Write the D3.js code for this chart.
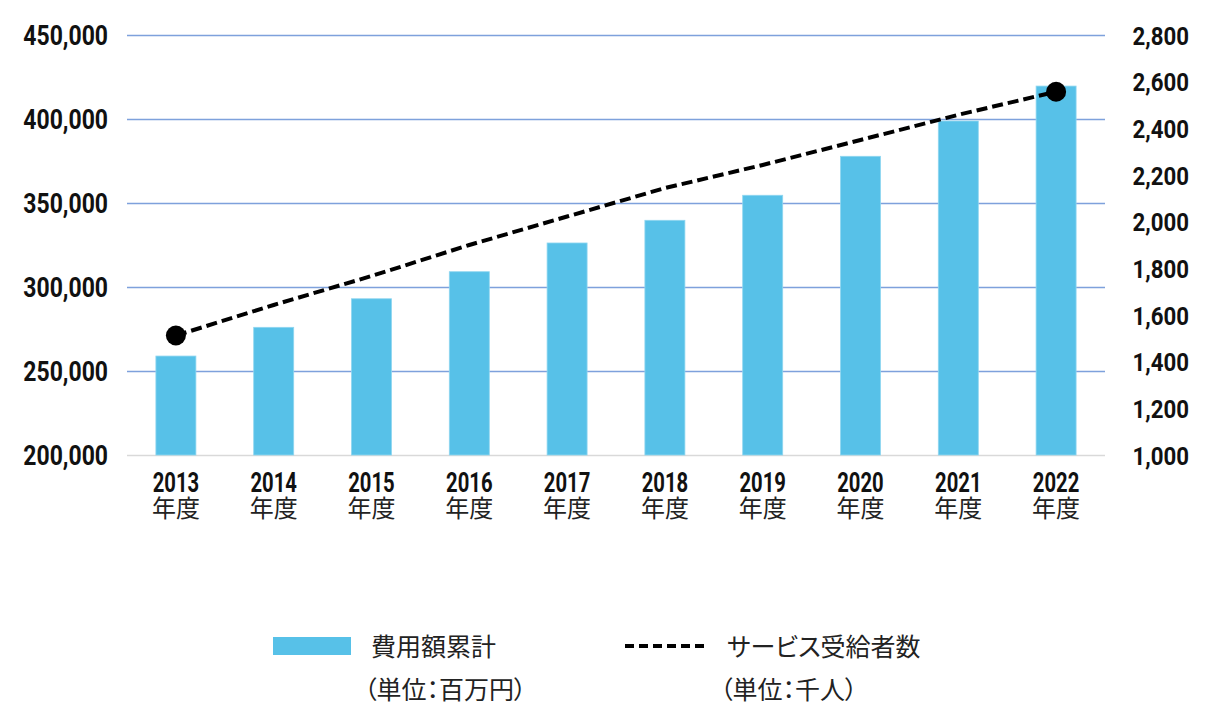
<!DOCTYPE html>
<html><head><meta charset="utf-8">
<script src="https://cdn.jsdelivr.net/npm/d3@7"></script>
<style>
body{margin:0;background:#fff;}
svg{display:block;}
.num{font-family:Roboto,"Liberation Sans",sans-serif;font-weight:700;fill:#111;}
.jp{font-family:"Noto Sans CJK JP","Noto Sans",sans-serif;font-weight:400;fill:#222;font-feature-settings:"palt";}
</style></head>
<body>
<svg id="c" width="1212" height="726"></svg>
<script>
const years = ["2013","2014","2015","2016","2017","2018","2019","2020","2021","2022"];
const costTotal = [258900, 276000, 293000, 309100, 326200, 339700, 354600, 377800, 398800, 419600];
const recipients = [1512, 1643, 1767, 1900, 2022, 2144, 2243, 2350, 2458, 2557];
const leftTicks = [200000, 250000, 300000, 350000, 400000, 450000];
const rightTicks = [1000, 1200, 1400, 1600, 1800, 2000, 2200, 2400, 2600, 2800];
const yearSuffix = "年度";
const legendBar = ["費用額累計", "（単位：百万円）"];
const legendLine = ["サービス受給者数", "（単位：千人）"];

const svg = d3.select("#c");
const x = d3.scaleBand().domain(years).range([127, 1105]).paddingInner(0.591).paddingOuter(0.2955);
const yL = d3.scaleLinear().domain([200000, 450000]).range([455, 35]);
const yR = d3.scaleLinear().domain([1000, 2800]).range([455, 35]);
const fmt = d3.format(",");
const numLen = s => { let w = 0; for (const ch of s) w += (ch === ",") ? 5.5 : 13.2; return w; };

// gridlines
svg.append("g").selectAll("line").data(leftTicks).join("line")
  .attr("x1", 127).attr("x2", 1105)
  .attr("y1", d => Math.round(yL(d)) + 0.5).attr("y2", d => Math.round(yL(d)) + 0.5)
  .attr("stroke", d => d === 200000 ? "#d9d9d9" : "#7ea1dc").attr("stroke-width", 1.5);

// bars
svg.append("g").selectAll("rect").data(years).join("rect")
  .attr("x", d => x(d)).attr("width", x.bandwidth())
  .attr("y", (d, i) => yL(costTotal[i])).attr("height", (d, i) => yL(200000) - yL(costTotal[i]))
  .attr("fill", "#57c1e8").attr("stroke", "#8fd6f0").attr("stroke-width", 0.8);

// left axis labels
svg.append("g").selectAll("text").data(leftTicks).join("text")
  .attr("class", "num").attr("x", 108).attr("y", d => yL(d) + 10)
  .attr("text-anchor", "end").attr("font-size", 27)
  .attr("textLength", d => numLen(fmt(d))).attr("lengthAdjust", "spacingAndGlyphs")
  .text(d => fmt(d));

// right axis labels
svg.append("g").selectAll("text").data(rightTicks).join("text")
  .attr("class", "num").attr("x", 1189).attr("y", d => yR(d) + 9.5)
  .attr("text-anchor", "end").attr("font-size", 26.5)
  .attr("textLength", d => numLen(fmt(d)) * 0.97).attr("lengthAdjust", "spacingAndGlyphs")
  .text(d => fmt(d));

// x labels (year number + 年度 in one text element, two lines)
const xt = svg.append("g").selectAll("text").data(years).join("text")
  .attr("transform", d => `translate(${x(d) + x.bandwidth() / 2},0)`)
  .attr("text-anchor", "middle");
xt.append("tspan").attr("class", "num").attr("x", 0).attr("y", 492)
  .attr("font-size", 27).attr("textLength", 46.5).attr("lengthAdjust", "spacingAndGlyphs")
  .text(d => d);
xt.append("tspan").attr("class", "jp").attr("x", 0).attr("y", 517)
  .attr("font-size", 24).text(yearSuffix);

// line
const cx = d => x(d) + x.bandwidth() / 2;
const line = d3.line().x((d, i) => cx(years[i])).y(d => yR(d));
svg.append("path").datum(recipients).attr("d", line)
  .attr("fill", "none").attr("stroke", "#000").attr("stroke-width", 4)
  .attr("stroke-dasharray", "11,5");
const ends = [0, years.length - 1];
svg.append("g").selectAll("circle").data(ends).join("circle")
  .attr("cx", i => cx(years[i])).attr("cy", i => yR(recipients[i])).attr("r", 10).attr("fill", "#000");

// legend
const lg = svg.append("g");
lg.append("rect").attr("x", 273).attr("y", 637).attr("width", 78).attr("height", 18).attr("fill", "#57c1e8");
lg.append("text").attr("class", "jp").attr("x", 371).attr("y", 656).attr("font-size", 25).text(legendBar[0]);
lg.append("text").attr("class", "jp").attr("x", 364).attr("y", 699).attr("font-size", 25).text(legendBar[1]);
lg.append("line").attr("x1", 625).attr("x2", 705).attr("y1", 646).attr("y2", 646)
  .attr("stroke", "#000").attr("stroke-width", 3.8).attr("stroke-dasharray", "9,5");
lg.append("text").attr("class", "jp").attr("x", 727).attr("y", 656).attr("font-size", 25).text(legendLine[0]);
lg.append("text").attr("class", "jp").attr("x", 720).attr("y", 699).attr("font-size", 25).text(legendLine[1]);
</script>
</body></html>
